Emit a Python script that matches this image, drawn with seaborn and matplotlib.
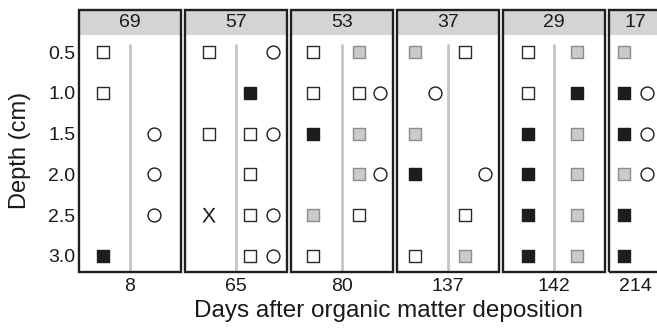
import numpy as np
import pandas as pd
import seaborn as sns
import matplotlib
matplotlib.use("Agg")
import matplotlib.pyplot as plt
from matplotlib.patches import Rectangle

# ---------------- data ----------------
panel_titles = ["69", "57", "53", "37", "29", "17"]
day_labels = ["8", "65", "80", "137", "142", "214"]
depth_ticks = [0.5, 1.0, 1.5, 2.0, 2.5, 3.0]

# observation lists (panel index, column slot, depth, symbol kind)
obs_panel = ([0] * 6 + [1] * 12 + [2] * 12 + [3] * 9 + [4] * 12 + [5] * 9)
obs_slot = (
    ["L", "L", "L", "Rc", "Rc", "Rc"]
    + ["L", "L", "L", "R", "R", "R", "R", "R", "Rc", "Rc", "Rc", "Rc"]
    + ["L", "L", "L", "L", "L", "R", "R", "R", "R", "R", "Rc", "Rc"]
    + ["L", "L", "L", "L", "Lc", "R", "R", "R", "Rc"]
    + ["L"] * 6 + ["R"] * 6
    + ["L"] * 6 + ["Rc"] * 3
)
obs_depth = (
    [0.5, 1.0, 3.0, 1.5, 2.0, 2.5]
    + [0.5, 1.5, 2.5, 1.0, 1.5, 2.0, 2.5, 3.0, 0.5, 1.5, 2.5, 3.0]
    + [0.5, 1.0, 1.5, 2.5, 3.0, 0.5, 1.0, 1.5, 2.0, 2.5, 1.0, 2.0]
    + [0.5, 1.5, 2.0, 3.0, 1.0, 0.5, 2.5, 3.0, 2.0]
    + [0.5, 1.0, 1.5, 2.0, 2.5, 3.0] + [0.5, 1.0, 1.5, 2.0, 2.5, 3.0]
    + [0.5, 1.0, 1.5, 2.0, 2.5, 3.0] + [1.0, 1.5, 2.0]
)
obs_kind = (
    ["white", "white", "black", "circle", "circle", "circle"]
    + ["white", "white", "x", "black", "white", "white", "white", "white",
       "circle", "circle", "circle", "circle"]
    + ["white", "white", "black", "gray", "white", "gray", "white", "gray",
       "gray", "white", "circle", "circle"]
    + ["gray", "gray", "black", "white", "circle", "white", "white", "gray",
       "circle"]
    + ["white", "white", "black", "black", "black", "black"]
    + ["gray", "black", "gray", "gray", "gray", "gray"]
    + ["gray", "black", "black", "gray", "black", "black"]
    + ["circle", "circle", "circle"]
)

df = pd.DataFrame({"panel": obs_panel, "slot": obs_slot,
                   "depth": obs_depth, "kind": obs_kind})

# ---------------- layout / style ----------------
W, H = 657, 328
slot_offset = {
    0: {"L": -27, "Rc": 24},
    1: {"L": -27, "R": 14, "Rc": 37},
    2: {"L": -29, "R": 17, "Rc": 38},
    3: {"L": -33, "Lc": -13, "R": 17, "Rc": 37},
    4: {"L": -26, "R": 23},
    5: {"L": -11.5, "Rc": 11.5},
}
panel_left = [79, 185, 291, 397, 503, 609]
panel_width = [102, 102, 102, 102, 102, 52]
top_px, hdr_px, bot_px = 10, 35, 272

kind_style = {
    "white": dict(marker="s", color="white", edgecolor="#2a2a2a", linewidth=1.0, s=76),
    "gray": dict(marker="s", color="#c9cacc", edgecolor="#8c8c8c", linewidth=1.0, s=76),
    "black": dict(marker="s", color="#1d1d1f", edgecolor="#1d1d1f", linewidth=1.0, s=76),
    "circle": dict(marker="o", color="white", edgecolor="#1d1d1f", linewidth=1.0, s=86),
    "x": dict(marker=r"$\mathrm{X}$", color="#1d1d1f", edgecolor="none", linewidth=0, s=110),
}

sns.set_theme(style="white")
plt.rcParams["font.family"] = ["Liberation Sans", "DejaVu Sans"]
plt.rcParams["mathtext.fontset"] = "custom"
plt.rcParams["mathtext.rm"] = "Liberation Sans"

fig = plt.figure(figsize=(W / 100, H / 100), dpi=100)
fig.patch.set_facecolor("white")

unit = (256 - 52) / 2.5  # px per cm of depth
ylim_top = 0.5 - (52 - hdr_px) / unit
ylim_bot = 3.0 + (bot_px - 256) / unit
area_h = bot_px - hdr_px
hdr_frac = (hdr_px - top_px) / area_h
line_top_frac = (bot_px - 45) / area_h

for i, title in enumerate(panel_titles):
    left = panel_left[i] / W
    width = panel_width[i] / W
    ax = fig.add_axes([left, 1 - bot_px / H, width, area_h / H])
    ax.set_facecolor("white")
    sub = df[df["panel"] == i].copy()
    sub["xpos"] = sub["slot"].map(slot_offset[i])
    if i < 5:
        ax.axvline(0, ymin=0, ymax=line_top_frac, color="#c4c5c7", lw=2.0, zorder=1)
    for kind, st in kind_style.items():
        s2 = sub[sub["kind"] == kind]
        if len(s2) == 0:
            continue
        sns.scatterplot(data=s2, x="xpos", y="depth", ax=ax, legend=False,
                        zorder=3, **st)
    ax.set_xlim(-panel_width[i] / 2, panel_width[i] / 2)
    ax.set_ylim(ylim_bot, ylim_top)
    ax.set_xticks([0])
    ax.set_xticklabels([day_labels[i]], fontsize=14, color="#1a1a1a")
    ax.set_yticks(depth_ticks)
    ax.set_yticklabels([f"{d:.1f}" for d in depth_ticks], fontsize=14,
                       color="#1a1a1a")
    ax.tick_params(length=0, pad=2.5)
    ax.tick_params(axis="x", pad=4)
    if i > 0:
        ax.tick_params(labelleft=False)
    ax.set_xlabel("")
    ax.set_ylabel("")
    ax.grid(False)
    for sp in ax.spines.values():
        sp.set_visible(False)
    ax.add_patch(Rectangle((0, 1), 1, hdr_frac, transform=ax.transAxes,
                           facecolor="#d4d4d5", edgecolor="none",
                           clip_on=False, zorder=2))
    ax.text(0.5, 1 + hdr_frac / 2, title, transform=ax.transAxes,
            ha="center", va="center", fontsize=14, color="#1a1a1a", zorder=4)
    ax.add_patch(Rectangle((0, 0), 1, 1 + hdr_frac, transform=ax.transAxes,
                           fill=False, edgecolor="#1f1f1f", lw=1.7,
                           clip_on=False, zorder=5))

fig.text(20 / W, 1 - 150 / H, "Depth (cm)", rotation=90, ha="center",
         va="center", fontsize=17, color="#1a1a1a")
fig.text(388 / W, 1 - 311 / H, "Days after organic matter deposition",
         ha="center", va="center", fontsize=17.5, color="#1a1a1a")

fig.savefig("out.png", dpi=100, facecolor="white")
